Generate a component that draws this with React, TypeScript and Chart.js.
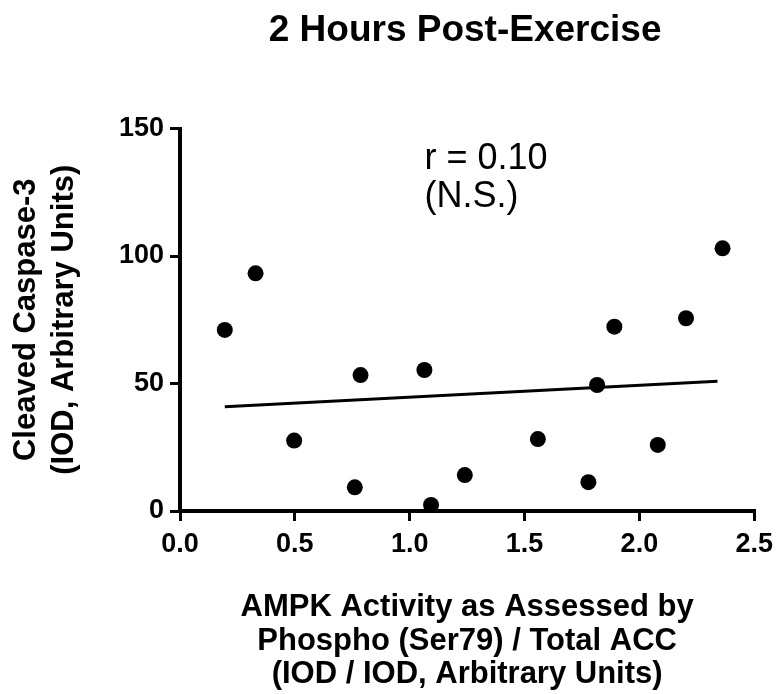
import { useEffect, useRef } from "react";
import { Chart, registerables } from "chart.js";
Chart.register(...registerables);

const xValues = [0.195, 0.329, 0.497, 0.761, 0.786, 1.064, 1.093, 1.24, 1.558, 1.778, 1.816, 1.891, 2.08, 2.203, 2.362];
const yValues = [71.0, 93.2, 27.6, 9.3, 53.3, 55.3, 2.4, 14.1, 28.2, 11.3, 49.4, 72.3, 25.9, 75.6, 103.0];
const fitX = [0.195, 2.34];
const fitY = [40.9, 50.9];
const xTicks = [0, 0.5, 1.0, 1.5, 2.0, 2.5];
const yTicks = [0, 50, 100, 150];
const titleText = "2 Hours Post-Exercise";
const xTitle = ["AMPK Activity as Assessed by", "Phospho (Ser79) / Total ACC", "(IOD / IOD, Arbitrary Units)"];
const yTitle = ["Cleaved Caspase-3", "(IOD, Arbitrary Units)"];
const annotationLines = ["r = 0.10", "(N.S.)"];
const annotationX = 1.064;
const annotationY = [134.0, 119.3];

const FONT = "'Liberation Sans', Arial, Helvetica, sans-serif";

const textPlugin = {
  id: "texts",
  afterDraw(chart: any) {
    const ctx = chart.ctx;
    const xs = chart.scales.x;
    const ys = chart.scales.y;
    const area = chart.chartArea;
    ctx.save();
    ctx.fillStyle = "#000";
    // title
    ctx.font = `bold 37px ${FONT}`;
    ctx.textAlign = "center";
    ctx.textBaseline = "alphabetic";
    ctx.fillText(titleText, (area.left + area.right) / 2 - 2, 40.5);
    // annotation
    ctx.font = `36px ${FONT}`;
    ctx.textAlign = "left";
    annotationLines.forEach((t, i) => {
      ctx.fillText(t, xs.getPixelForValue(annotationX), ys.getPixelForValue(annotationY[i]));
    });
    ctx.restore();
  },
};

export default function App() {
  const ref = useRef<HTMLCanvasElement | null>(null);
  useEffect(() => {
    if (!ref.current) return;
    const chart = new Chart(ref.current, {
      type: "scatter",
      data: {
        datasets: [
          {
            label: "data",
            data: xValues.map((x, i) => ({ x, y: yValues[i] })),
            backgroundColor: "#000",
            borderColor: "#000",
            borderWidth: 0,
            pointRadius: 8,
            pointHoverRadius: 8,
            clip: false as any,
          },
          {
            label: "fit",
            type: "line" as any,
            data: fitX.map((x, i) => ({ x, y: fitY[i] })),
            borderColor: "#000",
            borderWidth: 3,
            pointRadius: 0,
            showLine: true,
            fill: false,
          },
        ],
      },
      options: {
        animation: false,
        responsive: false,
        events: [],
        layout: { padding: { left: 0, right: 21, top: 128.5, bottom: 0 } },
        plugins: {
          legend: { display: false },
          tooltip: { enabled: false },
          title: { display: false },
        },
        scales: {
          x: {
            type: "linear",
            min: 0,
            max: 2.5,
            afterBuildTicks: (s: any) => {
              s.ticks = xTicks.map((v) => ({ value: v }));
            },
            afterFit: (s: any) => {
              s.height = 183;
            },
            ticks: {
              color: "#000",
              font: { family: FONT, size: 27, weight: "bold" },
              padding: 7,
              maxRotation: 0,
              callback: (v: any) => Number(v).toFixed(1),
            },
            grid: { drawOnChartArea: false, drawTicks: true, tickLength: 10, color: "#000", lineWidth: 3 },
            border: { display: true, color: "#000", width: 4 },
            title: {
              display: true,
              text: xTitle,
              color: "#000",
              font: { family: FONT, size: 31, weight: "bold", lineHeight: 1.077 },
              padding: { top: 0, bottom: 2.85 },
            },
          },
          y: {
            type: "linear",
            min: 0,
            max: 150,
            afterBuildTicks: (s: any) => {
              s.ticks = yTicks.map((v) => ({ value: v }));
            },
            afterFit: (s: any) => {
              s.width = 180;
            },
            ticks: {
              color: "#000",
              font: { family: FONT, size: 27, weight: "bold" },
              padding: 6,
            },
            grid: { drawOnChartArea: false, drawTicks: true, tickLength: 10, color: "#000", lineWidth: 3 },
            border: { display: true, color: "#000", width: 4 },
            title: {
              display: true,
              text: yTitle,
              color: "#000",
              font: { family: FONT, size: 31, weight: "bold", lineHeight: 1.226 },
              padding: { top: 7, bottom: 0 },
            },
          },
        },
      },
      plugins: [textPlugin],
    } as any);
    return () => chart.destroy();
  }, []);
  return (
    <div style={{ position: "fixed", left: 0, top: 0, width: 780, height: 694, background: "#fff" }}>
      <canvas ref={ref} width={780} height={694} style={{ width: 780, height: 694, display: "block" }} />
    </div>
  );
}
